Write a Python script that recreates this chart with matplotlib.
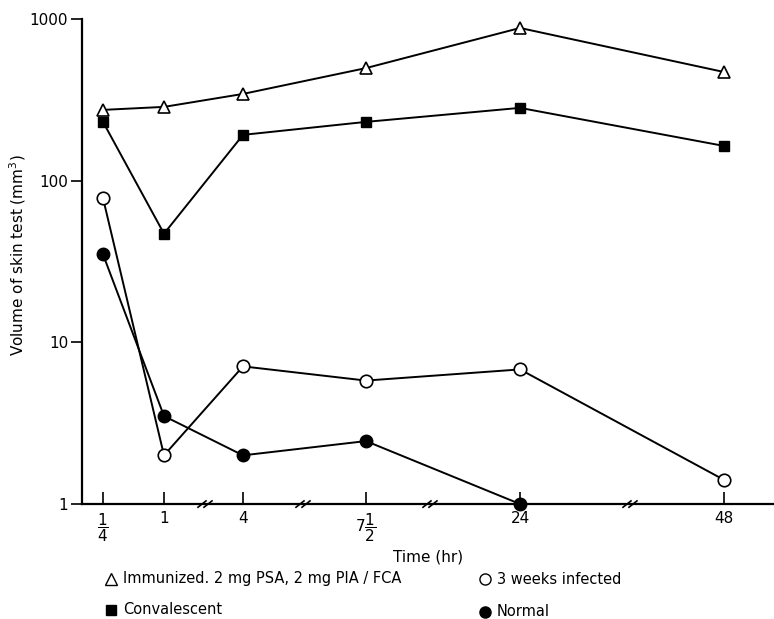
import numpy as np
import matplotlib
matplotlib.use("Agg")
import matplotlib.pyplot as plt
from matplotlib.lines import Line2D

# ---- data ----
times = [0.25, 1, 4, 7.5, 24, 48]
time_labels = [r"$\dfrac{1}{4}$", "1", "4", r"$7\dfrac{1}{2}$", "24", "48"]
immunized = [274, 286, 344, 497, 880, 470]
convalescent = [231, 47, 192, 231, 282, 164]
infected3w = [78, 2.0, 7.1, 5.8, 6.8, 1.41]
normal_t = [0.25, 1, 4, 7.5, 24]
normal = [35, 3.5, 2.0, 2.45, 1.0]
y_ticks = [1, 10, 100, 1000]
y_tick_labels = ["1", "10", "100", "1000"]

# broken time axis: positions of each time along the axis (scale definition)
axis_pos = [21, 82, 161, 284, 438, 642]
break_pos = [123, 221, 348, 548]

plt.rcParams['font.family'] = ['DejaVu Sans']

fig = plt.figure(figsize=(7.74, 6.19), dpi=100)
ax = fig.add_axes([82/774, 1-504/619, 1-82/774, (504-19)/619])

def fwd_ext(t):
    t = np.asarray(t, float)
    out = np.interp(t, times, axis_pos)
    lo = t < times[0]
    out = np.where(lo, axis_pos[0] + (t - times[0]) * (axis_pos[1]-axis_pos[0])/(times[1]-times[0]), out)
    hi = t > times[-1]
    out = np.where(hi, axis_pos[-1] + (t - times[-1]) * (axis_pos[-1]-axis_pos[-2])/(times[-1]-times[-2]), out)
    return out

def inv_ext(p):
    p = np.asarray(p, float)
    out = np.interp(p, axis_pos, times)
    lo = p < axis_pos[0]
    out = np.where(lo, times[0] + (p - axis_pos[0]) * (times[1]-times[0])/(axis_pos[1]-axis_pos[0]), out)
    hi = p > axis_pos[-1]
    out = np.where(hi, times[-1] + (p - axis_pos[-1]) * (times[-1]-times[-2])/(axis_pos[-1]-axis_pos[-2]), out)
    return out

ax.set_xscale('function', functions=(fwd_ext, inv_ext))
ax.set_yscale('log')

lw = 1.4
ax.plot(times, immunized, color='black', lw=lw, marker='^', ms=9, mfc='white', mec='black', mew=1.2, clip_on=False, zorder=3)
ax.plot(times, convalescent, color='black', lw=lw, marker='s', ms=7.5, mfc='black', mec='black', clip_on=False, zorder=3)
ax.plot(times, infected3w, color='black', lw=lw, marker='o', ms=9, mfc='white', mec='black', mew=1.2, clip_on=False, zorder=3)
ax.plot(normal_t, normal, color='black', lw=lw, marker='o', ms=9, mfc='black', mec='black', clip_on=False, zorder=4)

ax.set_xlim(inv_ext(0), inv_ext(692))
ax.set_ylim(1, 1000)
ax.set_yticks(y_ticks)
ax.set_yticklabels(y_tick_labels)
ax.yaxis.set_minor_locator(matplotlib.ticker.NullLocator())
ax.set_xticks(times)
ax.set_xticklabels(time_labels)
ax.xaxis.set_minor_locator(matplotlib.ticker.NullLocator())

for s in ['top', 'right']:
    ax.spines[s].set_visible(False)
ax.spines['left'].set_linewidth(1.6)
ax.spines['bottom'].set_linewidth(1.6)
ax.tick_params(axis='y', direction='out', length=8, width=1.2, labelsize=11, pad=2)
ax.tick_params(axis='x', direction='in', length=9, width=1.2, labelsize=11, pad=5)

# axis break marks
for bp in break_pos:
    for dx in (-3, 3):
        tt0 = inv_ext(bp + dx - 4)
        tt1 = inv_ext(bp + dx + 4)
        ax.plot([tt0, tt1], [0.955, 1.045], color='black', lw=1.2, clip_on=False)

ax.set_xlabel("Time (hr)", fontsize=11, labelpad=4)
fig.text(18/774, 1-255/619, "Volume of skin test (mm$^3$)", fontsize=11,
         rotation=90, ha='center', va='center')

# legend (manual)
fs = 10.5
def legend_item(xp, yp, marker, mfc, label):
    fig.add_artist(Line2D([xp/774], [1-yp/619], marker=marker, ms=8 if marker != 's' else 7,
                          mfc=mfc, mec='black', mew=1.0, lw=0, transform=fig.transFigure))
    fig.text((xp+12)/774, 1-yp/619, label, fontsize=fs, va='center', ha='left')

legend_item(111, 579, '^', 'white', "Immunized. 2 mg PSA, 2 mg PIA / FCA")
legend_item(485, 579, 'o', 'white', "3 weeks infected")
legend_item(111, 610, 's', 'black', "Convalescent")
legend_item(485, 612, 'o', 'black', "Normal")

fig.savefig("out.png", dpi=100)
